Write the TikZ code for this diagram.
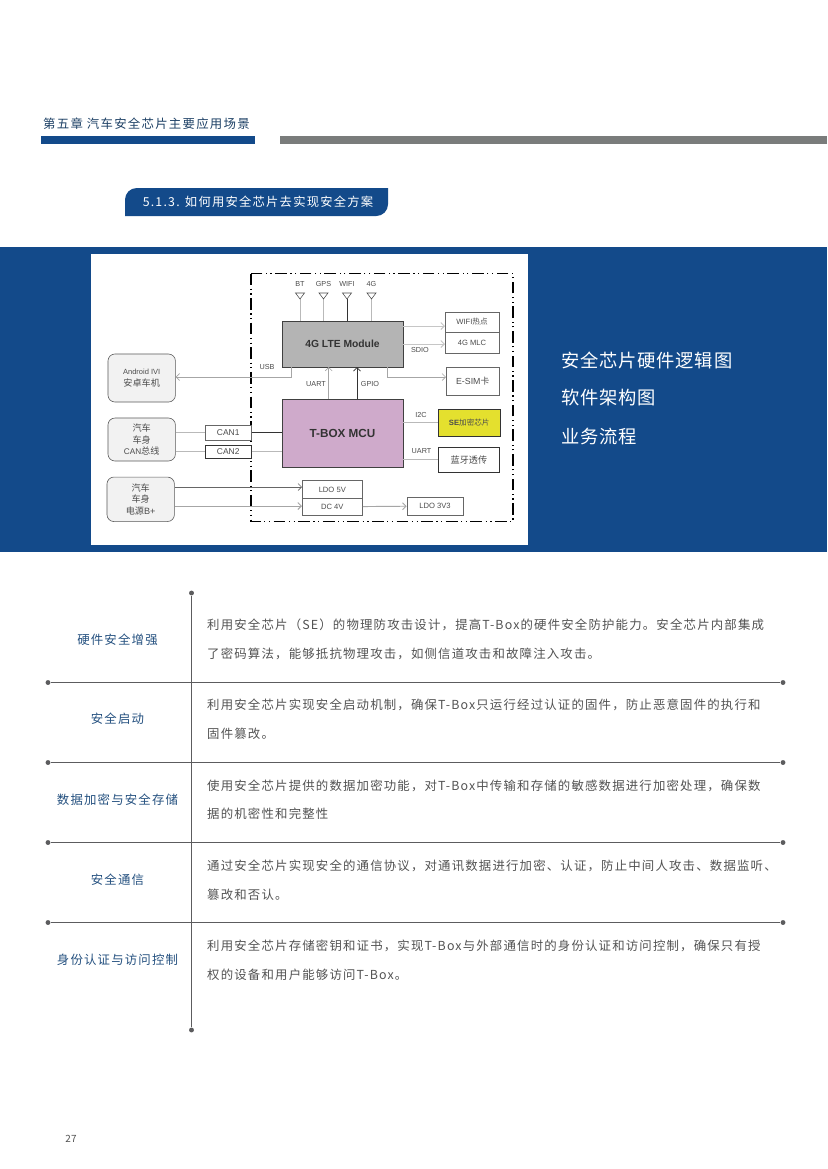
\documentclass[tikz,border=0pt]{standalone}
\usepackage{fontspec}
\usepackage{xcolor}
\setmainfont{Liberation Sans}
\newfontfamily\cjk{Noto Sans CJK SC}
\newfontfamily\cjkbody[LetterSpace=9.4]{Noto Sans CJK SC}
\newfontfamily\cjkhead[LetterSpace=10]{Noto Sans CJK SC}
\newfontfamily\cjkside[LetterSpace=4.5]{Noto Sans CJK SC}
\usetikzlibrary{arrows.meta,positioning,calc}
\definecolor{pageblue}{HTML}{134A8A}
\definecolor{bargray}{HTML}{7A7C7B}
\definecolor{rulegray}{HTML}{5C5C5E}
\definecolor{bodygray}{HTML}{525252}
\definecolor{labelblue}{HTML}{24507F}
\definecolor{ltefill}{HTML}{B4B4B4}
\definecolor{mcufill}{HTML}{CFAACB}
\definecolor{sefill}{HTML}{E4E02E}
\newcommand{\fs}[1]{\fontsize{#1}{#1}\selectfont}
\tikzset{
  sig/.style={-{Straight Barb[length=3pt]}, gray!70, line width=0.5pt},
  sigb/.style={-{Straight Barb[length=3pt]}, black!80, line width=0.7pt},
  wire/.style={gray!55, line width=0.6pt},
  wired/.style={black!80, line width=0.7pt},
  extbox/.style={draw=black!65, fill=black!5, rounded corners=6pt, line width=0.5pt, inner sep=0pt, align=center, font=\fs{7.8}\cjk, text=black!70},
  box/.style={draw=black!60, fill=white, line width=0.5pt, inner sep=0pt, align=center, font=\fs{6.5}, text=black!70},
  core/.style={draw=black!75, line width=0.6pt, inner sep=0pt, font=\bfseries, text=black!80},
  tag/.style={font=\fs{6.2}, text=black!70, inner sep=0pt},
  rulev/.style={rulegray, line width=0.7pt},
  dotn/.style={circle, fill=rulegray, minimum size=4.2pt, inner sep=0pt},
  topic/.style={font=\fs{10.6}\cjkbody, text=labelblue, inner sep=0pt},
  para/.style={anchor=west, font=\fs{10.6}\cjkbody, text=bodygray, inner sep=0pt},
  side/.style={anchor=west, font=\fs{15.6}\cjkside, text=white, inner sep=0pt},
}
\begin{document}
\begin{tikzpicture}[x=0.03cm,y=-0.03cm]
\useasboundingbox (0,0) rectangle (827,1169);
% header
\node[anchor=west, font=\fs{10.6}\cjkhead, text=labelblue!80!black, inner sep=0pt] (title) at (43,124) {第五章 汽车安全芯片主要应用场景};
\fill[pageblue] (41,136) rectangle (255,144);
\fill[bargray] (280,136) rectangle (827,144);
\fill[pageblue] (125,216) [rounded corners=10pt] -- (125,188) [sharp corners] -- (388,188) [rounded corners=10pt] -- (388,216) [sharp corners] -- cycle;
\node[font=\fs{10.5}\cjkhead, text=white, inner sep=0pt] (sect) at (258,202) {5.1.3. 如何用安全芯片去实现安全方案};
% band
\fill[pageblue] (0,247) rectangle (827,552);
\fill[white] (91,254) rectangle (528,545);
\node[side] (s1) at (561,360) {安全芯片硬件逻辑图};
\node[side] (s2) at (561,398) {软件架构图};
\node[side] (s3) at (561,437) {业务流程};
% logic diagram
\draw[black, line width=1pt, dash pattern=on 10pt off 3pt on 1pt off 3pt on 1pt off 3pt] (251,273.5) rectangle (513,521.5);
\node[core, fill=ltefill, minimum width=103.2pt, minimum height=39.2pt, font=\fs{8.8}\bfseries] (lte) at (342.5,344) {4G LTE Module};
\node[core, fill=mcufill, minimum width=103.2pt, minimum height=58pt, font=\fs{10}\bfseries] (mcu) at (342.5,433) {T-BOX MCU};
% antennas
\foreach \nm/\xp/\tx in {bt/300/BT, gps/323.5/GPS, wifi/347/WIFI, fourg/371.5/4G}{
  \coordinate (\nm a) at (\xp,299);
  \coordinate (\nm b) at (\xp,321);
  \draw[wire] (\nm a) -- (\nm b);
  \draw[black!70, line width=0.5pt, fill=white] (\xp-4.5,293) -- (\xp+4.5,293) -- (\nm a) -- cycle;
  \node[tag] (\nm t) at (\xp,284) {\tx};
}
\draw[wired] (wifia) -- (wifib);
\node[box, minimum width=46pt, minimum height=17.1pt] (hot) at (472,322) {WIFI{\cjk 热点}};
\node[box, minimum width=46pt, minimum height=17.9pt] (mlc) at (472,342.5) {4G MLC};
\node[box, minimum width=45.6pt, minimum height=23.9pt, font=\fs{7.5}] (esim) at (472.7,381) {E-SIM{\cjk 卡}};
\node[box, fill=sefill, draw=black!80, minimum width=52.3pt, minimum height=23pt, font=\fs{6.5}\bfseries] (se) at (469.3,422.5) {SE{\cjk\mdseries 加密芯片}};
\node[box, draw=black!80, minimum width=51.6pt, minimum height=21.8pt, font=\fs{7.8}\cjk] (bt) at (468.9,459.8) {蓝牙透传};
\node[box, minimum width=51.6pt, minimum height=15.2pt] (ldo5) at (332.3,489.6) {LDO 5V};
\node[box, minimum width=51.6pt, minimum height=14.1pt] (dc4) at (332.3,506.8) {DC 4V};
\node[box, minimum width=47.8pt, minimum height=15.4pt] (ldo33) at (435,506) {LDO 3V3};
\node[box, minimum width=39.6pt, minimum height=12.8pt, font=\fs{7.2}] (can1) at (228.2,432.6) {CAN1};
\node[box, draw=black!80, minimum width=39.6pt, minimum height=11.5pt, font=\fs{7.2}] (can2) at (228.2,451.7) {CAN2};
\node[extbox, minimum width=57.6pt, minimum height=41pt] (ivi) at (141.7,378) {{\rmfamily\fs{6.4}Android IVI}\\[2pt]安卓车机};
\node[extbox, minimum width=57.6pt, minimum height=36.7pt] (canbus) at (141.7,439.5) {汽车\\[1.8pt]车身\\[1.8pt]{\rmfamily\fs{7}CAN}总线};
\node[extbox, minimum width=57.6pt, minimum height=38pt] (pwr) at (140.7,499.3) {汽车\\[1.8pt]车身\\[1.8pt]电源{\rmfamily B+}};
% connectors
\coordinate (h1) at (445,326);
\coordinate (h2) at (445,344);
\coordinate (e0) at (387,367);
\coordinate (e1) at (387,377);
\coordinate (e2) at (446,377);
\coordinate (u0) at (291,367);
\coordinate (u1) at (291,377);
\coordinate (u2) at (175.7,377);
\coordinate (a0) at (328.7,399);
\coordinate (a1) at (328.7,367);
\coordinate (g0) at (357,399);
\coordinate (g1) at (357,367);
\coordinate (p5) at (302,487);
\coordinate (p4) at (302,506);
\draw[sig, gray!45, line width=0.8pt] (lte.east |- h1) -- (h1);
\draw[sig, gray!45, line width=0.8pt] (lte.east |- h2) -- (h2);
\draw[sig] (e0) -- (e1) -- (e2);
\draw[sig] (u0) -- (u1) -- (u2);
\draw[sig] (a0) -- (a1);
\draw[sigb] (g0) -- (g1);
\draw[wire] (mcu.east |- se) -- (se);
\draw[wire] (mcu.east |- bt) -- (bt);
\draw[wire] (canbus.east |- can1) -- (can1);
\draw[wire] (canbus.east |- can2) -- (can2);
\draw[wired] (can1) -- (mcu.west |- can1);
\draw[wire] (can2) -- (mcu.west |- can2);
\draw[sig, black!60] (pwr.east |- p5) -- (p5);
\draw[sig, line width=0.8pt] (pwr.east |- p4) -- (p4);
\draw[sig, line width=0.8pt] (dc4) -- (ldo33);
\node[tag] (usb) at (267,367) {USB};
\node[tag] (sdio) at (420,350) {SDIO};
\node[tag] (uart1) at (316,384) {UART};
\node[tag] (gpio) at (370,384) {GPIO};
\node[tag] (i2c) at (421,415) {I2C};
\node[tag] (uart2) at (421.5,451) {UART};
% table
\node[dotn] (vt) at (191.5,593) {};
\node[dotn] (vb) at (191.5,1030) {};
\draw[rulev] (vt) -- (vb);
\foreach \nm/\yp in {a/682.5, b/762.5, c/842.5, d/922.5}{
  \node[dotn] (\nm l) at (48,\yp) {};
  \node[dotn] (\nm r) at (783,\yp) {};
  \draw[rulev] (\nm l) -- (\nm r);
}
\node[topic] (t1) at (117.5,640) {硬件安全增强};
\node[topic] (t2) at (117.5,719) {安全启动};
\node[topic] (t3) at (117.5,800) {数据加密与安全存储};
\node[topic] (t4) at (117.5,880) {安全通信};
\node[topic] (t5) at (117.5,960) {身份认证与访问控制};
\node[para] (p11) at (207,625) {利用安全芯片（SE）的物理防攻击设计，提高T-Box的硬件安全防护能力。安全芯片内部集成};
\node[para] (p12) at (207,654) {了密码算法，能够抵抗物理攻击，如侧信道攻击和故障注入攻击。};
\node[para] (p21) at (207,705) {利用安全芯片实现安全启动机制，确保T-Box只运行经过认证的固件，防止恶意固件的执行和};
\node[para] (p22) at (207,734) {固件篡改。};
\node[para] (p31) at (207,786) {使用安全芯片提供的数据加密功能，对T-Box中传输和存储的敏感数据进行加密处理，确保数};
\node[para] (p32) at (207,814) {据的机密性和完整性};
\node[para] (p41) at (207,866) {通过安全芯片实现安全的通信协议，对通讯数据进行加密、认证，防止中间人攻击、数据监听、};
\node[para] (p42) at (207,895) {篡改和否认。};
\node[para] (p51) at (207,946) {利用安全芯片存储密钥和证书，实现T-Box与外部通信时的身份认证和访问控制，确保只有授};
\node[para] (p52) at (207,975) {权的设备和用户能够访问T-Box。};
\node[font=\fs{8.5}\cjk, text=bodygray, inner sep=0pt] (pg) at (71,1139) {27};
\end{tikzpicture}
\end{document}
